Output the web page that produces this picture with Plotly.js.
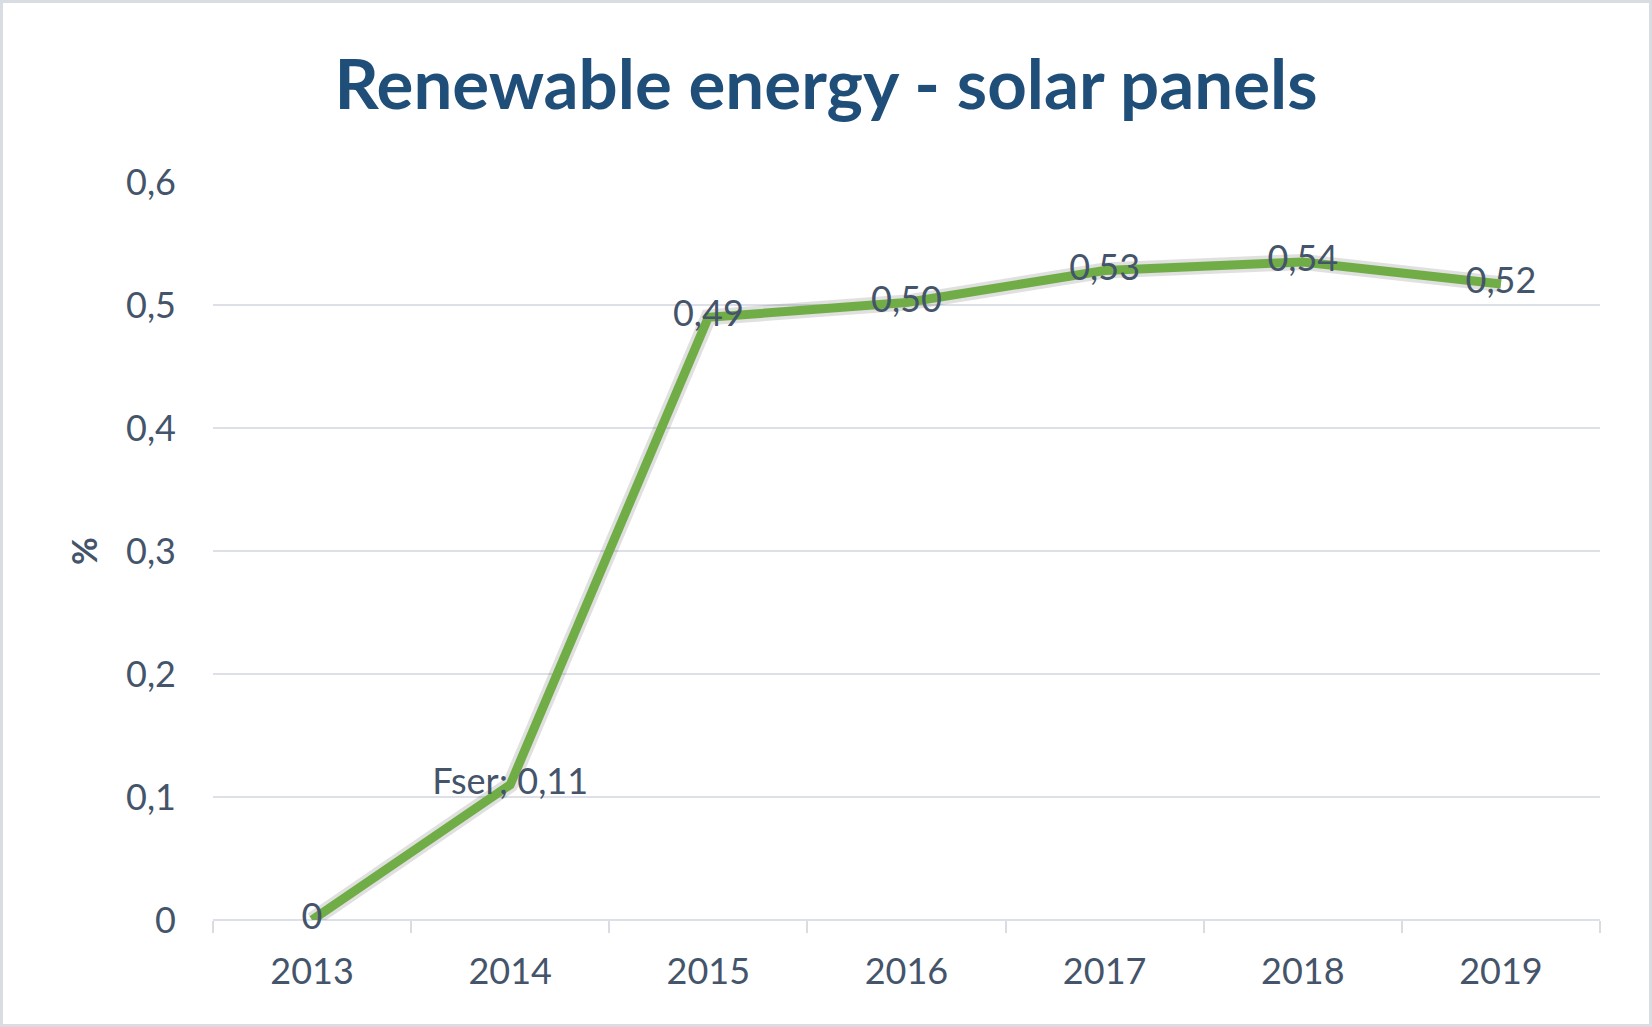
<!DOCTYPE html>
<html>
<head>
<meta charset="utf-8">
<script src="https://cdn.plot.ly/plotly-3.0.1.min.js"></script>
<style>
  html, body { margin: 0; padding: 0; background: #fff; }
  #chart { width: 1652px; height: 1027px; box-sizing: border-box; border: 3px solid #D9DDE3; }
</style>
</head>
<body>
<div id="chart"></div>
<script>
var anios = ['2013', '2014', '2015', '2016', '2017', '2018', '2019'];
var valores = [0, 0.11, 0.49, 0.502, 0.528, 0.535, 0.517];
var etiquetas = ['0', 'Fser; 0,11', '0,49', '0,50', '0,53', '0,54', '0,52'];

var colorTexto = '#44546A';

var sombra = {
    type: 'scatter',
    mode: 'lines',
    x: anios,
    y: valores,
    line: {color: 'rgba(0,0,0,0.12)', width: 16},
    hoverinfo: 'skip',
    showlegend: false,
    cliponaxis: false
};

var trace1 = {
    type: 'scatter',
    mode: 'lines+text',
    name: 'Fser',
    x: anios,
    y: valores,
    text: etiquetas,
    textposition: 'middle center',
    textfont: {family: 'Lato, sans-serif', size: 36, color: colorTexto},
    line: {color: '#70AD47', width: 9},
    showlegend: false,
    cliponaxis: false
};

var layout = {
    width: 1646,
    height: 1021,
    margin: {l: 210, r: 49, t: 179, b: 104},
    paper_bgcolor: '#fff',
    plot_bgcolor: '#fff',
    separators: ',.',
    title: {
        text: '<b>Renewable energy - solar panels</b>',
        font: {family: 'Lato, sans-serif', size: 69, color: '#1F4E79'},
        x: 0.5,
        xanchor: 'center',
        y: 0.92,
        yanchor: 'middle'
    },
    xaxis: {
        type: 'category',
        range: [-0.5, 6.5],
        tickson: 'boundaries',
        ticks: 'outside',
        ticklen: 12,
        tickwidth: 2,
        tickcolor: '#D9DDE3',
        showgrid: false,
        showline: false,
        zeroline: false,
        ticklabelstandoff: 27,
        tickfont: {family: 'Lato, sans-serif', size: 36, color: colorTexto}
    },
    yaxis: {
        range: [0, 0.6],
        dtick: 0.1,
        tick0: 0,
        showgrid: true,
        gridcolor: '#DDE1E7',
        gridwidth: 2,
        zeroline: true,
        zerolinecolor: '#DDE1E7',
        zerolinewidth: 2,
        showline: false,
        ticks: '',
        ticklabelstandoff: 36,
        tickfont: {family: 'Lato, sans-serif', size: 36, color: colorTexto},
        title: {
            text: '<b>%</b>',
            font: {family: 'Lato, sans-serif', size: 34, color: colorTexto},
            standoff: 18
        }
    }
};

var config = {staticPlot: true, displayModeBar: false};

Plotly.newPlot('chart', [sombra, trace1], layout, config);
</script>
</body>
</html>
